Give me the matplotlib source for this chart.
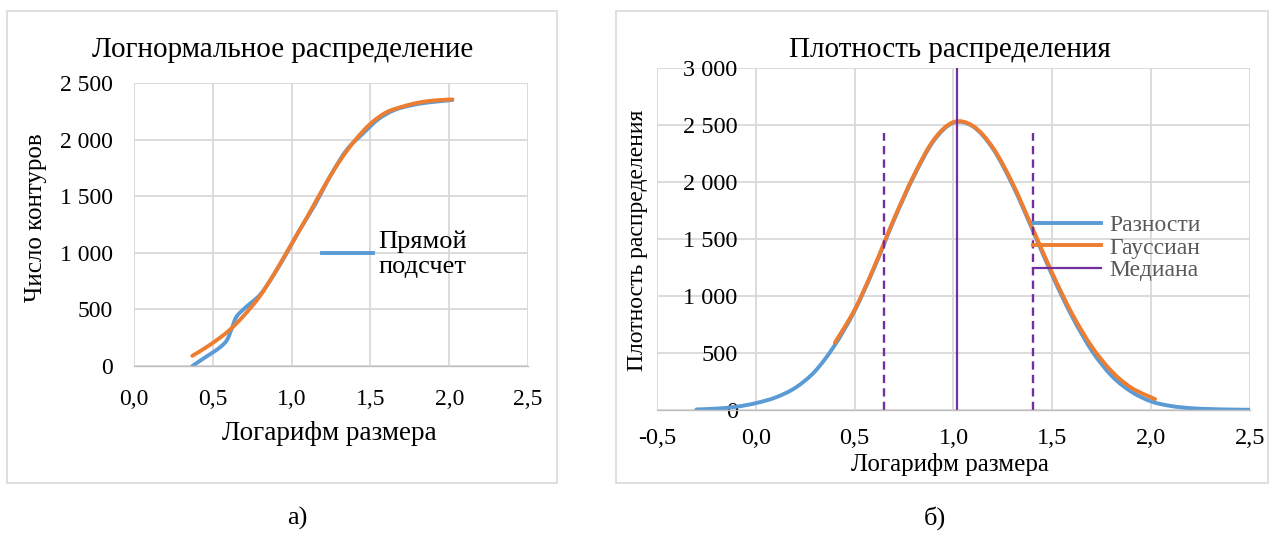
import matplotlib.pyplot as plt
from matplotlib.patches import Rectangle, PathPatch
from matplotlib.path import Path
from matplotlib.lines import Line2D
from matplotlib.ticker import FuncFormatter, MultipleLocator

plt.rcParams['font.family'] = ['Liberation Serif', 'DejaVu Serif']

BLUE = '#5B9BD5'
ORANGE = '#ED7D31'
PURPLE = '#7030A0'
GRID = '#D9D9D9'

# а) cumulative counts
cum_x = [0.37, 0.45, 0.50, 0.55, 0.59, 0.62, 0.65, 0.71, 0.80, 0.88, 0.97, 1.05,
         1.15, 1.25, 1.35, 1.45, 1.55, 1.65, 1.75, 1.85, 1.95, 2.02]
cum_direct = [0, 75, 120, 170, 230, 330, 435, 520, 630, 790, 1000, 1200,
              1430, 1690, 1910, 2050, 2180, 2260, 2300, 2325, 2340, 2350]
fit_x = [0.37, 0.48, 0.60, 0.70, 0.80, 0.90, 1.00, 1.10, 1.20, 1.30, 1.40, 1.50,
         1.60, 1.70, 1.80, 1.90, 2.02]
cum_fit = [90, 185, 310, 450, 620, 840, 1080, 1320, 1570, 1800, 1990, 2140,
           2240, 2290, 2325, 2345, 2355]

# б) density
dens_x = [-0.3, -0.2, -0.1, 0.0, 0.1, 0.2, 0.3, 0.4, 0.5, 0.6, 0.7, 0.8, 0.9, 1.0,
          1.1, 1.2, 1.3, 1.4, 1.5, 1.6, 1.7, 1.8, 1.9, 2.0, 2.1, 2.2, 2.3, 2.4, 2.5]
dens_diff = [5, 12, 28, 60, 110, 195, 340, 570, 870, 1250, 1670, 2050, 2360, 2520,
             2485, 2290, 1970, 1580, 1180, 820, 520, 300, 160, 75, 35, 16, 8, 4, 2]
gauss_x = [0.4, 0.5, 0.6, 0.7, 0.8, 0.9, 1.0, 1.1, 1.2, 1.3, 1.4, 1.5, 1.6,
           1.7, 1.8, 1.9, 2.02]
dens_gauss = [590, 880, 1260, 1680, 2060, 2370, 2525, 2490, 2300, 1985, 1595,
              1200, 845, 555, 340, 195, 95]
median_x = 1.02
quartile_x = [0.65, 1.40]
quartile_top = 2430


def thousands(v, pos):
    return f"{int(round(v)):,}".replace(",", " ")


def decimal_comma(v, pos):
    if abs(v) < 1e-9:
        v = 0.0
    return f"{v:.1f}".replace(".", ",")


def smooth_line(ax, x, y, color, lw):
    # Excel-like smoothed line: Catmull-Rom segments as cubic Bezier
    verts = [(x[0], y[0])]
    codes = [Path.MOVETO]
    n = len(x)
    for i in range(n - 1):
        a = max(i - 1, 0)
        b = min(i + 2, n - 1)
        c1 = (x[i] + (x[i + 1] - x[a]) / 6, y[i] + (y[i + 1] - y[a]) / 6)
        c2 = (x[i + 1] - (x[b] - x[i]) / 6, y[i + 1] - (y[b] - y[i]) / 6)
        verts += [c1, c2, (x[i + 1], y[i + 1])]
        codes += [Path.CURVE4] * 3
    ax.add_patch(PathPatch(Path(verts, codes), fill=False, edgecolor=color,
                           linewidth=lw, capstyle='round', joinstyle='round'))


def style_axes(ax, size):
    for side in ['top', 'right', 'left']:
        ax.spines[side].set_visible(False)
    ax.spines['bottom'].set_color('#BFBFBF')
    ax.spines['bottom'].set_linewidth(1.0)
    ax.grid(True, color=GRID, linewidth=1.3)
    ax.set_axisbelow(True)
    ax.tick_params(length=0, labelsize=size)
    ax.xaxis.set_major_locator(MultipleLocator(0.5))
    ax.yaxis.set_major_locator(MultipleLocator(500))
    ax.xaxis.set_major_formatter(FuncFormatter(decimal_comma))
    ax.yaxis.set_major_formatter(FuncFormatter(thousands))


fig = plt.figure(figsize=(12.69, 5.33), dpi=100)

# panel frames
fig.patches.append(Rectangle((0.0055, 0.094), 0.4334, 0.8856, transform=fig.transFigure,
                             fill=False, edgecolor='#D9D9D9', linewidth=1.2))
fig.patches.append(Rectangle((0.4854, 0.094), 0.5138, 0.8856, transform=fig.transFigure,
                             fill=False, edgecolor='#D9D9D9', linewidth=1.2))

# ---- а) ----
ax1 = fig.add_axes([0.1056, 0.3133, 0.3105, 0.531])
style_axes(ax1, 17)
smooth_line(ax1, cum_x, cum_direct, BLUE, 2.8)
smooth_line(ax1, fit_x, cum_fit, ORANGE, 2.8)
ax1.set_xlim(0, 2.5)
ax1.set_ylim(0, 2500)
ax1.tick_params(axis='x', pad=16.5)
ax1.tick_params(axis='y', pad=15)
ax1.text(0.378, 1.117, 'Логнормальное распределение', transform=ax1.transAxes,
         ha='center', va='center', fontsize=21)
ax1.set_xlabel('Логарифм размера', fontsize=19.5)
ax1.xaxis.set_label_coords(0.495, -0.194)
ax1.set_ylabel('Число контуров', fontsize=18)
ax1.yaxis.set_label_coords(-0.221, 0.523)
h1 = Line2D([], [], color=BLUE, linewidth=2.8)
leg1 = ax1.legend([h1], ['Прямой\nподсчет'], loc='upper left', bbox_to_anchor=(0.477, 0.48),
                  frameon=False, fontsize=19, handlelength=1.95, handletextpad=0.2,
                  borderpad=0, borderaxespad=0)
for t in leg1.get_texts():
    t.set_linespacing(1.2)

# ---- б) ----
ax2 = fig.add_axes([0.5177, 0.2308, 0.4673, 0.6417])
style_axes(ax2, 17.5)
ax2.spines['left'].set_position(('data', 0))
smooth_line(ax2, dens_x, dens_diff, BLUE, 2.8)
smooth_line(ax2, gauss_x, dens_gauss, ORANGE, 2.8)
ax2.vlines(quartile_x, 0, quartile_top, colors=PURPLE, linestyles=(0, (3.5, 2.2)), linewidth=1.7)
ax2.axvline(median_x, color=PURPLE, linewidth=1.6)
ax2.set_xlim(-0.5, 2.5)
ax2.set_ylim(0, 3000)
ax2.tick_params(axis='x', pad=13)
ax2.tick_params(axis='y', pad=13)
ax2.text(0.494, 1.053, 'Плотность распределения', transform=ax2.transAxes,
         ha='center', va='center', fontsize=21)
ax2.set_xlabel('Логарифм размера', fontsize=18)
ax2.xaxis.set_label_coords(0.494, -0.126)
ax2.set_ylabel('Плотность распределения', fontsize=17)
ax2.yaxis.set_label_coords(-0.015, 0.497)
h2 = [Line2D([], [], color=BLUE, linewidth=2.8),
      Line2D([], [], color=ORANGE, linewidth=2.8),
      Line2D([], [], color=PURPLE, linewidth=1.6)]
ax2.legend(h2, ['Разности', 'Гауссиан', 'Медиана'], loc='upper left',
           bbox_to_anchor=(0.634, 0.572), frameon=False, fontsize=17, labelcolor='#595959',
           handlelength=2.9, handletextpad=0.35, labelspacing=0.05,
           borderpad=0, borderaxespad=0)

fig.text(297 / 1269, 1 - 518 / 533, 'а)', ha='center', va='center', fontsize=19)
fig.text(935 / 1269, 1 - 518 / 533, 'б)', ha='center', va='center', fontsize=19)

fig.savefig('out.png', dpi=100)
